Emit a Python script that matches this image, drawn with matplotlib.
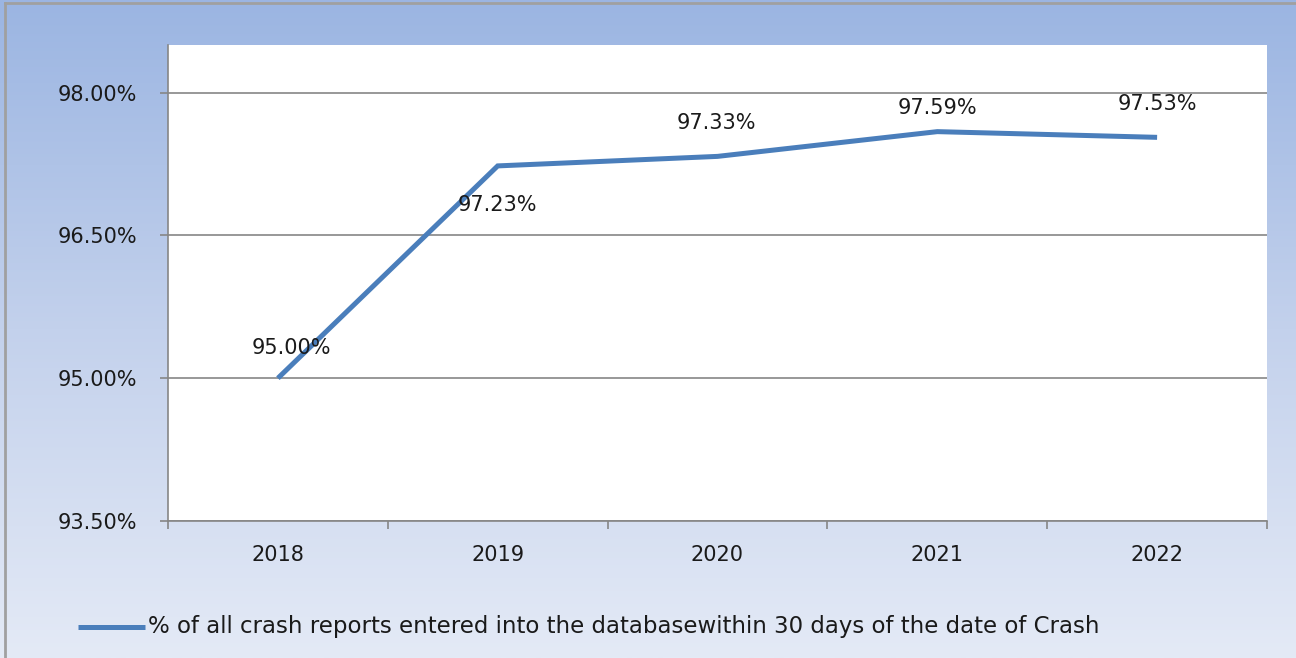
import numpy as np
import matplotlib
matplotlib.use("Agg")
import matplotlib.pyplot as plt
from matplotlib.lines import Line2D
from matplotlib.colors import LinearSegmentedColormap

# ---- data ----
years = ["2018", "2019", "2020", "2021", "2022"]
values = [95.00, 97.23, 97.33, 97.59, 97.53]
value_labels = ["95.00%", "97.23%", "97.33%", "97.59%", "97.53%"]
y_ticks = [93.5, 95.0, 96.5, 98.0]
y_tick_labels = ["93.50%", "95.00%", "96.50%", "98.00%"]
series_name = "% of all crash reports entered into the databasewithin 30 days of the date of Crash"

# ---- layout (label offsets in points) ----
label_offsets = [(10, 22), (0, -28), (-1, 24), (0, 17), (0, 24)]

W, H, DPI = 1296, 658, 100
fig = plt.figure(figsize=(W / DPI, H / DPI), dpi=DPI)
plt.rcParams['font.family'] = ['DejaVu Sans']
FS = 15

# gradient background
bg = fig.add_axes([0, 0, 1, 1], zorder=0)
cmap = LinearSegmentedColormap.from_list("bg", ["#9BB5E2", "#C3D1EC", "#E4EAF6"])
grad = np.linspace(0, 1, 256).reshape(-1, 1)
bg.imshow(grad, aspect="auto", cmap=cmap, extent=[0, 1, 0, 1], origin="upper")
bg.set_xlim(0, 1)
bg.set_ylim(0, 1)
bg.axis("off")
# outer border (left and top)
bg.plot([5 / W, 5 / W], [0, 1 - 3 / H], color="#A0A0A0", lw=2, transform=bg.transAxes)
bg.plot([5 / W, 1], [1 - 3 / H, 1 - 3 / H], color="#A0A0A0", lw=2, transform=bg.transAxes)

left, right, top, bottom = 168, 1267, 45, 521
ax = fig.add_axes([left / W, 1 - bottom / H, (right - left) / W, (bottom - top) / H], zorder=1)
ax.set_facecolor("white")

x = np.arange(len(years))
ax.plot(x, values, color="#4A7EBB", lw=3.6, solid_capstyle="butt", solid_joinstyle="miter", zorder=3)

for xi, v, lab, off in zip(x, values, value_labels, label_offsets):
    ax.annotate(lab, (xi, v), xytext=off, textcoords="offset points",
                ha="center", va="center", fontsize=FS, color="#1A1A1A", zorder=4)

ax.set_xlim(-0.5, len(years) - 0.5)
ax.set_ylim(93.5, 98.5)
ax.set_yticks(y_ticks)
ax.set_yticklabels(y_tick_labels, fontsize=FS, color="#1A1A1A")
ax.yaxis.grid(True, color="#868686", lw=1.2)
ax.set_axisbelow(True)

ax.set_xticks(np.arange(len(years) + 1) - 0.5)
ax.set_xticklabels([])
ax.set_xticks(x, minor=True)
ax.set_xticklabels(years, minor=True, fontsize=FS, color="#1A1A1A")
ax.tick_params(axis="x", which="minor", length=0, pad=17)
ax.tick_params(axis="x", which="major", length=6, width=1.2, color="#868686", direction="out")
ax.tick_params(axis="y", length=6, width=1.2, color="#868686", direction="out", pad=16)

for s in ["top", "right"]:
    ax.spines[s].set_visible(False)
for s in ["left", "bottom"]:
    ax.spines[s].set_color("#868686")
    ax.spines[s].set_linewidth(1.2)

# legend
ly = 1 - 627 / H
fig.add_artist(Line2D([78 / W, 145 / W], [ly, ly], color="#4A7EBB", lw=3.6,
                      solid_capstyle="butt", transform=fig.transFigure, zorder=5))
fig.text(148 / W, ly, series_name, ha="left", va="center", fontsize=16.5,
         color="#1A1A1A", zorder=5)

fig.savefig("out.png", dpi=DPI)
